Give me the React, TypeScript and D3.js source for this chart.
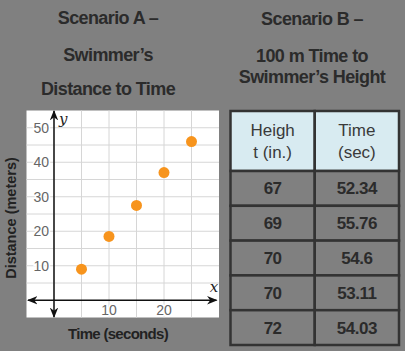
import React from 'react';
import * as d3 from 'd3';

// Scenario A: swimmer's distance vs time
const timeSec = [5, 10, 15, 20, 25];
const distanceM = [9, 18.5, 27.5, 37, 46];
const xTickLabels = [10, 20];
const yTickLabels = [10, 20, 30, 40, 50];

// Scenario B: table
const headerLines = [['Heigh', 't (in.)'], ['Time', '(sec)']];
const heightIn = ['67', '69', '70', '70', '72'];
const timeSecB = ['52.34', '55.76', '54.6', '53.11', '54.03'];

const titleA = ['Scenario A \u2013', 'Swimmer\u2019s', 'Distance to Time'];
const titleB = ['Scenario B \u2013', '100 m Time to', 'Swimmer\u2019s Height'];

const W = 405;
const H = 351;
const BG = '#808080';
const FONT = '"Liberation Sans", Arial, sans-serif';

const App: React.FC = () => {
    const x = d3.scaleLinear().domain([-5, 30]).range([26.5, 219]);
    const y = d3.scaleLinear().domain([-5, 55]).range([317.5, 110.5]);
    const gridX = d3.range(0, 30, 5);
    const gridY = d3.range(5, 55, 5);

    const cols = d3.scaleBand<number>().domain([0, 1]).range([230.5, 399]);
    const rows = d3.scaleBand<number>().domain(d3.range(heightIn.length)).range([171, 345]);
    const tableTop = 111;

    const x0 = x(0);
    const y0 = y(0);

    return (
        <div style={{ position: 'fixed', left: 0, top: 0 }}>
            <svg width={W} height={H} style={{ display: 'block' }}>
                <defs>
                    <marker id="arr" viewBox="0 0 10 10" refX="9" refY="5" markerWidth="7" markerHeight="7" orient="auto-start-reverse">
                        <path d="M0,1 L10,5 L0,9 L3,5 Z" fill="#111" />
                    </marker>
                </defs>
                <rect width={W} height={H} fill={BG} />

                {/* titles */}
                {titleA.map((t, i) => (
                    <text key={'a' + i} x={108} y={[24, 61, 95][i]} textAnchor="middle" fontFamily={FONT}
                        fontWeight="bold" fontSize={18} letterSpacing={-0.6} fill="#2b2b2b">{t}</text>
                ))}
                {titleB.map((t, i) => (
                    <text key={'b' + i} x={312} y={[25, 62, 83][i]} textAnchor="middle" fontFamily={FONT}
                        fontWeight="bold" fontSize={18} letterSpacing={-0.6} fill="#2b2b2b">{t}</text>
                ))}

                {/* chart panel */}
                <rect x={x(-5)} y={y(55)} width={x(30) - x(-5)} height={y(-5) - y(55)} fill="#fff" />
                {gridX.map(v => (
                    <line key={'gx' + v} x1={x(v)} x2={x(v)} y1={y(55)} y2={y(-5)} stroke="#d6d6d6" strokeWidth={1} />
                ))}
                {gridY.map(v => (
                    <line key={'gy' + v} x1={x(-5)} x2={x(30)} y1={y(v)} y2={y(v)} stroke="#d6d6d6" strokeWidth={1} />
                ))}
                {yTickLabels.map(v => (
                    <text key={'yt' + v} x={x0 - 5} y={y(v) + 5} textAnchor="end" fontFamily={FONT} fontSize={14}
                        fill="#666" stroke="#fff" strokeWidth={3} paintOrder="stroke">{v}</text>
                ))}
                {xTickLabels.map(v => (
                    <text key={'xt' + v} x={x(v)} y={y0 + 15} textAnchor="middle" fontFamily={FONT} fontSize={14}
                        fill="#666" stroke="#fff" strokeWidth={3} paintOrder="stroke">{v}</text>
                ))}

                {/* axes */}
                <line x1={x(-5) + 1.5} x2={x(30) - 2.5} y1={y0} y2={y0} stroke="#111" strokeWidth={1.5}
                    markerStart="url(#arr)" markerEnd="url(#arr)" />
                <line x1={x0} x2={x0} y1={y(-5) - 0.5} y2={y(55) + 0.5} stroke="#111" strokeWidth={1.5}
                    markerStart="url(#arr)" markerEnd="url(#arr)" />
                <text x={x0 + 5} y={y(55) + 13} fontFamily={'"DejaVu Serif", serif'} fontStyle="italic" fontSize={15} fill="#222">y</text>
                <text x={x(28.3)} y={y0 - 8} fontFamily={'"DejaVu Serif", serif'} fontStyle="italic" fontSize={15} fill="#222">x</text>

                {/* points */}
                {timeSec.map((t, i) => (
                    <circle key={'p' + i} cx={x(t)} cy={y(distanceM[i])} r={5.5} fill="#f7941d" />
                ))}

                {/* axis titles */}
                <text transform={`translate(16,${218}) rotate(-90)`} textAnchor="middle" fontFamily={FONT}
                    fontWeight="bold" fontSize={14.5} fill="#222">Distance (meters)</text>
                <text x={118} y={339} textAnchor="middle" fontFamily={FONT} fontWeight="bold" fontSize={15}
                    letterSpacing={-0.7} fill="#222">Time (seconds)</text>

                {/* table */}
                {[0, 1].map(c => (
                    <rect key={'h' + c} x={cols(c)} y={tableTop} width={cols.bandwidth()} height={rows.range()[0] - tableTop}
                        fill="#d8ebf1" stroke="#333" strokeWidth={2.5} />
                ))}
                {headerLines.map((lines, c) => lines.map((l, j) => (
                    <text key={'ht' + c + j} x={cols(c)! + cols.bandwidth() / 2} y={136 + j * 22} textAnchor="middle"
                        fontFamily={FONT} fontSize={17} fill="#3a3a3a">{l}</text>
                )))}
                {heightIn.map((h, i) => [h, timeSecB[i]].map((v, c) => (
                    <g key={'r' + i + c}>
                        <rect x={cols(c)} y={rows(i)} width={cols.bandwidth()} height={rows.bandwidth()}
                            fill={BG} stroke="#333" strokeWidth={2.5} />
                        <text x={cols(c)! + cols.bandwidth() / 2} y={rows(i)! + rows.bandwidth() / 2 + 6}
                            textAnchor="middle" fontFamily={FONT} fontWeight="bold" fontSize={17}
                            letterSpacing={-0.5} fill="#2b2b2b">{v}</text>
                    </g>
                )))}
            </svg>
        </div>
    );
};

export default App;
